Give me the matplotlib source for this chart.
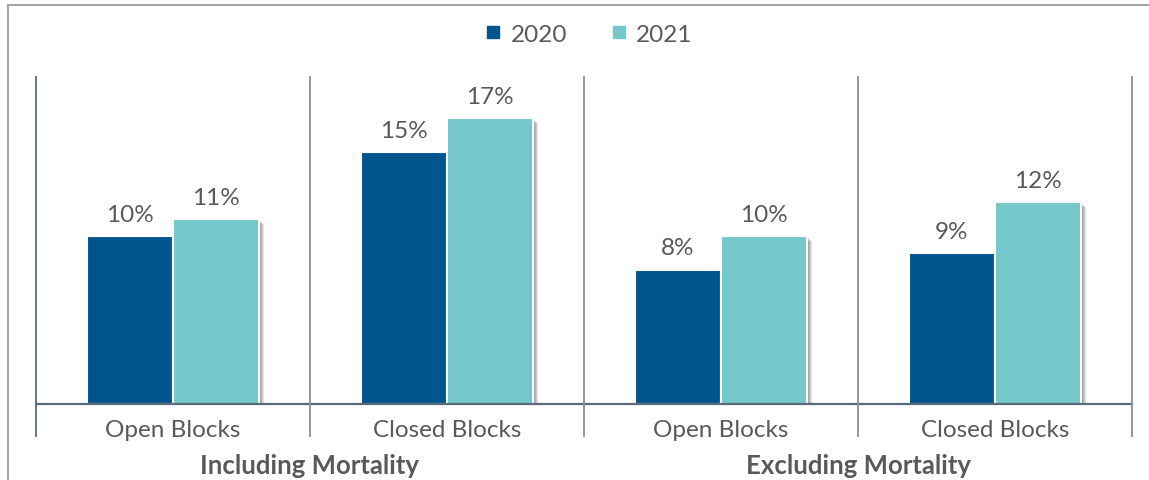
import matplotlib
matplotlib.use("Agg")
import matplotlib.pyplot as plt
import matplotlib.patheffects as pe
from matplotlib.lines import Line2D

plt.rcParams['font.family'] = ['Lato', 'DejaVu Sans']

# data
subcats = ["Open Blocks", "Closed Blocks", "Open Blocks", "Closed Blocks"]
groups = ["Including Mortality", "Excluding Mortality"]
vals_2020 = [10, 15, 8, 9]
vals_2021 = [11, 17, 10, 12]
series_names = ["2020", "2021"]

c2020 = "#00558F"
c2021 = "#74C8CA"
txt = "#595959"
sep_col = "#8f8f8f"
axis_col = "#5b6b7b"
fs = 17.5

W, H = 1149, 481
fig = plt.figure(figsize=(W / 100, H / 100), dpi=100)
ax = fig.add_axes([36 / W, 1 - 405 / H, 1096 / W, 327 / H])
ax.set_xlim(0, len(subcats))
ax.set_ylim(0, 19.46)
ax.axis('off')

# soft drop shadow: stacked offsets
shadow = [pe.SimplePatchShadow(offset=(o, -o), shadow_rgbFace='k', alpha=0.1)
          for o in (0.5, 1.2, 2.0, 2.8, 3.6)] + [pe.Normal()]

w = 0.314
off = 0.158
xs = [i + 0.5 for i in range(len(subcats))]
b1 = ax.bar([x - off for x in xs], vals_2020, width=w, color=c2020,
            edgecolor='white', linewidth=1.5, zorder=3)
b2 = ax.bar([x + off for x in xs], vals_2021, width=w, color=c2021,
            edgecolor='white', linewidth=1.5, zorder=3)
for bars in (b1, b2):
  for b in bars:
    b.set_path_effects(shadow)

for bars, vals in ((b1, vals_2020), (b2, vals_2021)):
  for b, v in zip(bars, vals):
    ax.annotate(f"{v:.0f}%", (b.get_x() + b.get_width() / 2, v),
                xytext=(0, 8), textcoords='offset points',
                ha='center', va='bottom', fontsize=fs, color=txt)

# baseline and separators
ax.plot([0, len(subcats)], [0, 0], color=axis_col, lw=1.6, zorder=4,
        clip_on=False)
tr = ax.get_xaxis_transform()
for i in range(len(subcats) + 1):
  col = axis_col if i == 0 else sep_col
  ax.plot([i, i], [-32 / 327, 1], color=col, lw=1.3, transform=tr,
          clip_on=False, zorder=4)

# category labels
for x, lab in zip(xs, subcats):
  ax.text(x, -26 / 327, lab, transform=tr, ha='center', va='center',
          fontsize=fs, color=txt)
for g, lab in enumerate(groups):
  ax.text(2 * g + 1, -61 / 327, lab, transform=tr, ha='center',
          va='center', fontsize=18.5, fontweight='bold', color=txt)

# legend
handles = [Line2D([], [], marker='s', ls='none', markersize=8, color=c)
           for c in (c2020, c2021)]
fig.legend(handles, series_names, loc='center', ncol=2, frameon=False,
           bbox_to_anchor=(590 / W, 1 - 35 / H), fontsize=fs,
           handlelength=0.5, handletextpad=0.45, columnspacing=1.9,
           labelcolor=txt)

# outer frame
fig.add_artist(Line2D([8 / W, 8 / W], [0, 1 - 6 / H], transform=fig.transFigure,
                      color='#a6a6a6', lw=1.5))
fig.add_artist(Line2D([8 / W, 1], [1 - 6 / H, 1 - 6 / H],
                      transform=fig.transFigure, color='#a6a6a6', lw=1.5))

fig.savefig("out.png", dpi=100)
